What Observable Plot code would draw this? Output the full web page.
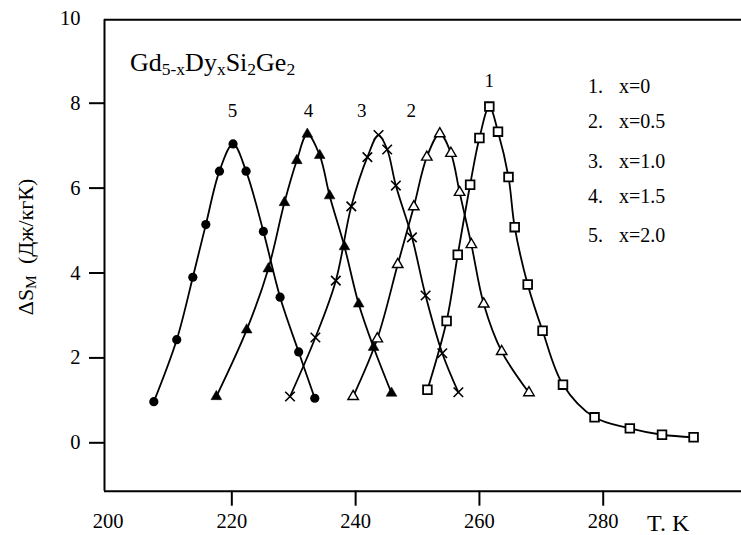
<!DOCTYPE html>
<html><head><meta charset="utf-8">
<script src="https://cdn.jsdelivr.net/npm/d3@7"></script>
<script src="https://cdn.jsdelivr.net/npm/@observablehq/plot@0.6"></script>
<style>
body{margin:0;background:#fff}
svg{display:block}
#chart svg, #chart svg text, #chart svg tspan { font-family: "Liberation Serif", "Tinos", "Times New Roman", "DejaVu Serif", serif !important; }
</style>
</head><body><div id="chart"></div>
<script>
// Temperature (K) and ΔS_M (J/kg K) for each composition
const T1 = [251.6, 254.7, 256.5, 258.5, 260.0, 261.6, 263.0, 264.7, 265.7, 267.8, 270.2, 273.5, 278.6, 284.3, 289.5, 294.6];
const S1 = [1.25, 2.87, 4.43, 6.08, 7.18, 7.92, 7.33, 6.26, 5.08, 3.73, 2.64, 1.37, 0.60, 0.34, 0.19, 0.13];
const T2 = [239.6, 243.5, 246.8, 249.4, 251.5, 253.6, 255.4, 256.8, 258.7, 260.7, 263.6, 268.0];
const S2 = [1.09, 2.45, 4.20, 5.56, 6.73, 7.28, 6.82, 5.90, 4.67, 3.27, 2.15, 1.18];
const T3 = [229.4, 233.5, 236.8, 239.3, 241.9, 243.7, 245.1, 246.5, 249.1, 251.3, 254.0, 256.6];
const S3 = [1.09, 2.48, 3.82, 5.57, 6.73, 7.25, 6.91, 6.06, 4.84, 3.47, 2.11, 1.19];
const T4 = [217.5, 222.4, 225.9, 228.5, 230.5, 232.2, 234.2, 235.8, 238.2, 240.5, 242.9, 245.8];
const S4 = [1.09, 2.66, 4.10, 5.66, 6.65, 7.27, 6.77, 5.82, 4.62, 3.27, 2.25, 1.17];
const T5 = [207.4, 211.1, 213.7, 215.8, 218.0, 220.2, 222.3, 225.1, 227.8, 230.8, 233.4];
const S5 = [0.97, 2.43, 3.90, 5.14, 6.40, 7.04, 6.40, 4.98, 3.43, 2.14, 1.05];

const seriesIds = [1, 2, 3, 4, 5];
const legendNums = ["1.", "2.", "3.", "4.", "5."];
const legendTexts = ["x=0", "x=0.5", "x=1.0", "x=1.5", "x=2.0"];
const peakLabels = ["1", "2", "3", "4", "5"];
const peakLabelT = [261.6, 249.0, 241.0, 232.4, 220.1];
const peakLabelS = [8.53, 7.83, 7.83, 7.83, 7.83];

const xTicks = [220, 240, 260, 280];
const yTicks = [0, 2, 4, 6, 8];
const xDomain = [199.43, 302.34];
const yDomain = [-1.14, 9.965];

const Ts = [T1, T2, T3, T4, T5];
const Ss = [S1, S2, S3, S4, S5];
const rows = seriesIds.flatMap((id, i) => Ts[i].map((t, j) => ({series: id, T: t, S: Ss[i][j]})));
const of = id => rows.filter(d => d.series === id);
const peaks = peakLabels.map((l, i) => ({label: l, T: peakLabelT[i], S: peakLabelS[i]}));

const serif = "Liberation Serif, Tinos, Times New Roman, DejaVu Serif, serif";

const plot = Plot.plot({
  width: 741,
  height: 535,
  marginLeft: 104,
  marginRight: 0,
  marginTop: 19.3,
  marginBottom: 44.3,
  style: {fontFamily: serif, fontSize: "20px", background: "#fff", color: "#000", overflow: "visible"},
  x: {domain: xDomain},
  y: {domain: yDomain},
  marks: [
    Plot.ruleY([yDomain[1]], {stroke: "#000", strokeWidth: 2}),
    Plot.ruleY([yDomain[0]], {stroke: "#000", strokeWidth: 2}),
    Plot.ruleX([xDomain[0]], {stroke: "#000", strokeWidth: 2}),
    Plot.axisX({ticks: xTicks, tickSize: 15, tickPadding: 7, strokeWidth: 2, label: null, fontSize: 20.5, fontFamily: serif}),
    Plot.axisX({ticks: [200], tickSize: 0, tickPadding: 22, label: null, fontSize: 20.5, fontFamily: serif}),
    Plot.axisY({ticks: yTicks, tickSize: 15, tickPadding: 9, strokeWidth: 2, label: null, fontSize: 20.5, fontFamily: serif}),
    Plot.axisY({ticks: [10], tickSize: 0, tickPadding: 24, label: null, fontSize: 20.5, fontFamily: serif}),
    Plot.line(rows, {x: "T", y: "S", z: "series", curve: "catmull-rom", stroke: "#000", strokeWidth: 1.8}),
    Plot.dot(of(5), {x: "T", y: "S", symbol: "circle", r: 4.6, fill: "#000", stroke: "none"}),
    Plot.dot(of(4), {x: "T", y: "S", symbol: "triangle", r: 4.0, fill: "#000", stroke: "#000", strokeWidth: 0.5}),
    Plot.dot(of(3), {x: "T", y: "S", symbol: "times", r: 4.4, stroke: "#000", strokeWidth: 1.6}),
    Plot.dot(of(2), {x: "T", y: "S", symbol: "triangle", r: 3.9, fill: "#fff", stroke: "#000", strokeWidth: 1.4}),
    Plot.dot(of(1), {x: "T", y: "S", symbol: "square", r: 4.9, fill: "#fff", stroke: "#000", strokeWidth: 1.8}),
    Plot.text(peaks, {x: "T", y: "S", text: "label", fontSize: 19, fontFamily: serif, fill: "#000"})
  ]
});

const svg = d3.select(plot);
// Title with subscripts
const title = svg.append("text").attr("x", 130).attr("y", 71).attr("text-anchor", "start")
  .attr("font-family", serif).attr("font-size", 26).attr("fill", "#000");
const parts = [["Gd", false], ["5-x", true], ["Dy", false], ["x", true], ["Si", false], ["2", true], ["Ge", false], ["2", true]];
parts.forEach(([s, sub], i) => {
  const ts = title.append("tspan").text(s);
  if (sub) ts.attr("font-size", 17.5).attr("dy", 4);
  else if (i > 0 && parts[i - 1][1]) ts.attr("dy", -4);
});

// Legend
const legendY = [92.7, 128.3, 168.3, 203.3, 241.7];
legendNums.forEach((n, i) => {
  svg.append("text").attr("x", 588).attr("y", legendY[i]).attr("text-anchor", "start")
    .attr("font-family", serif).attr("font-size", 20).attr("fill", "#000").text(n);
  svg.append("text").attr("x", 619).attr("y", legendY[i]).attr("text-anchor", "start")
    .attr("font-family", serif).attr("font-size", 20).attr("fill", "#000").text(legendTexts[i]);
});

// Axis labels
svg.append("text").attr("x", 647).attr("y", 531).attr("text-anchor", "start")
  .attr("font-family", serif).attr("font-size", 24).attr("fill", "#000").text("T. K");
const yl = svg.append("text").attr("transform", "translate(33,247) rotate(-90)")
  .attr("text-anchor", "middle").attr("font-family", serif).attr("font-size", 22).attr("fill", "#000");
yl.append("tspan").text("ΔS");
yl.append("tspan").text("M").attr("font-size", 15.5).attr("dy", 3);
yl.append("tspan").text("\u00a0\u00a0(Дж/кгК)").attr("dy", -3);

document.getElementById("chart").appendChild(plot);
</script>
</body></html>
